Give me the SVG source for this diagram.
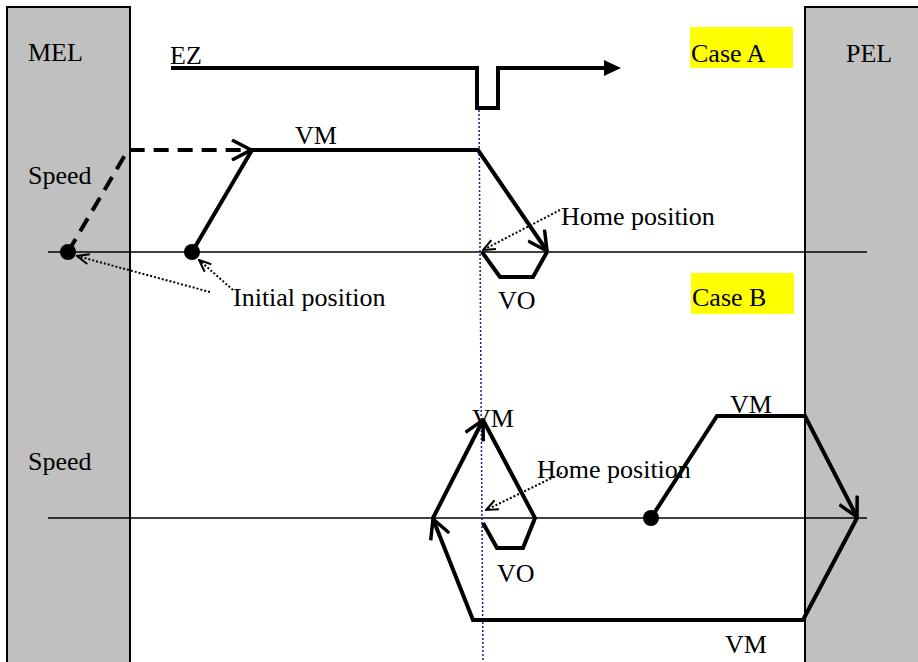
<svg xmlns="http://www.w3.org/2000/svg" width="918" height="662" viewBox="0 0 918 662">
<style>
text{font-family:"Liberation Serif","Times New Roman",serif;font-size:26px;fill:#000}
.lim{fill:#c0c0c0;stroke:#000;stroke-width:2}
.base{fill:none;stroke:#000;stroke-width:1.5}
.thick{fill:none;stroke:#000;stroke-width:4;stroke-linejoin:miter}
.dash{stroke-dasharray:15 9}
.dot{fill:none;stroke:#000;stroke-width:2;stroke-dasharray:2 2}
.blue{fill:none;stroke:#1a1aa0;stroke-width:1.5;stroke-dasharray:2 2}
.hl{fill:#ffff00}
</style>
<defs>
<marker id="arr" viewBox="0 0 22 22" refX="20" refY="11" markerWidth="22" markerHeight="22" markerUnits="userSpaceOnUse" orient="auto">
<path d="M1,1 L20,11 L1,21" fill="none" stroke="#000" stroke-width="3.5" stroke-dasharray="none"/>
</marker>
<marker id="sarr" viewBox="0 0 14 12" refX="13" refY="6" markerWidth="14" markerHeight="12" markerUnits="userSpaceOnUse" orient="auto">
<path d="M1,1 L13,6 L1,11" fill="none" stroke="#000" stroke-width="2" stroke-dasharray="none"/>
</marker>
</defs>

<g id="MEL">
<rect class="lim" x="7" y="7" width="123" height="670"/>
<text x="28" y="61">MEL</text>
</g>
<g id="PEL">
<rect class="lim" x="805" y="7" width="130" height="670"/>
<text x="846" y="62">PEL</text>
</g>

<g id="labels">
<rect class="hl" x="690" y="27" width="103" height="41"/>
<text x="691" y="62">Case A</text>
<rect class="hl" x="691" y="273" width="103" height="41"/>
<text x="692" y="306">Case B</text>
<text x="28" y="184">Speed</text>
<text x="28" y="470">Speed</text>
<text x="170" y="64">EZ</text>
<text x="295" y="144">VM</text>
<text x="498" y="309">VO</text>
<text x="561" y="225">Home position</text>
<text x="233" y="306">Initial position</text>
<text x="472" y="427">VM</text>
<text x="730" y="413">VM</text>
<text x="497" y="582">VO</text>
<text x="725" y="653">VM</text>
<text x="537" y="478">Home position</text>
</g>

<g id="axes">
<line class="base" x1="48" y1="252" x2="867" y2="252"/>
<line class="base" x1="48" y1="518" x2="867" y2="518"/>
<line class="blue" x1="479" y1="110" x2="483" y2="662"/>
</g>

<g id="EZ-signal">
<path class="thick" d="M171,68 L477,68 L477,108 L498,108 L498,68 L606,68"/>
<polygon points="604,60 621,68 604,76" fill="#000"/>
</g>

<g id="connectors">
<path class="thick dash" d="M68,252 L128,150 L251,150" marker-end="url(#arr)"/>
<path class="thick" d="M192,252 L252,150 L478,150 L547,251" marker-end="url(#arr)"/>
<path class="thick" d="M547,252 L533,277 L500,277 L482,252"/>
<path class="dot" d="M560,210 L483,250" marker-end="url(#sarr)"/>
<path class="dot" d="M210,292 L77,256" marker-end="url(#sarr)"/>
<path class="dot" d="M233,290 L199,260" marker-end="url(#sarr)"/>

<path class="thick" d="M651,518 L717,416 L805,416 L857,517" marker-end="url(#arr)"/>
<path class="thick" d="M857,518 L803,620 L473,620 L433,519" marker-end="url(#arr)"/>
<path class="thick" d="M433,518 L483,420" marker-end="url(#arr)"/>
<path class="thick" d="M483,420 L535,518 L523,548 L497,548 L483,523"/>
<path class="dot" d="M562,473 L486,510" marker-end="url(#sarr)"/>
</g>

<g id="points">
<circle cx="68" cy="252" r="8" fill="#000"/>
<circle cx="192" cy="252" r="8" fill="#000"/>
<circle cx="651" cy="518" r="8" fill="#000"/>
</g>
</svg>
